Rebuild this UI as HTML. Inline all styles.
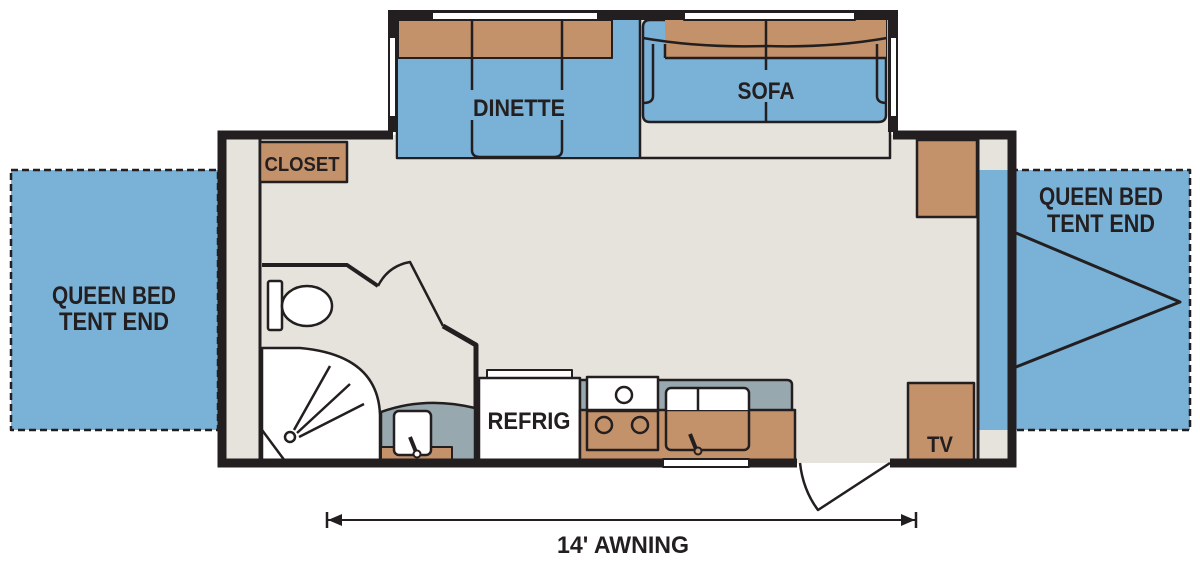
<!DOCTYPE html>
<html><head><meta charset="utf-8"><style>
html,body{margin:0;padding:0;background:#fff;width:1200px;height:563px;overflow:hidden}
svg{display:block}
text{font-family:"Liberation Sans Narrow","Liberation Sans",sans-serif;font-weight:bold;fill:#231f20}
</style></head><body>
<svg width="1200" height="563" viewBox="0 0 1200 563" xmlns="http://www.w3.org/2000/svg">
<g stroke="#231f20" stroke-linejoin="round">
<!-- tent ends -->
<rect x="11" y="170" width="207" height="260" fill="#7ab1d6" stroke-width="2.5" stroke-dasharray="7,4"/>
<rect x="978" y="170" width="212" height="260" fill="#7ab1d6" stroke-width="2.5" stroke-dasharray="7,4"/>
<!-- main floor -->
<rect x="221" y="135" width="791" height="328" fill="#e6e3dc" stroke="none"/>
<rect x="979" y="170" width="29" height="260" fill="#7ab1d6" stroke="none"/>
<line x1="260" y1="138" x2="260" y2="462" stroke-width="3"/>
<line x1="978" y1="138" x2="978" y2="462" stroke-width="3"/>
<!-- triangle -->
<polyline points="1016,233 1180,302 1016,367" fill="none" stroke-width="3"/>
<!-- slideout -->
<rect x="397" y="18" width="493" height="140" fill="#e6e3dc" stroke-width="2.5"/>
<rect x="398" y="20" width="242" height="137" fill="#7ab1d6" stroke="none"/>
<rect x="398" y="20" width="214" height="38" fill="#c4926a" stroke-width="2"/>
<line x1="640" y1="20" x2="640" y2="157" stroke-width="2.5"/>
<line x1="472" y1="20" x2="472" y2="90" stroke-width="2.5"/>
<line x1="562" y1="20" x2="562" y2="90" stroke-width="2.5"/>
<path d="M472,120 V150 Q472,157 480,157 H554 Q562,157 562,150 V120" fill="none" stroke-width="2.5"/>
<!-- sofa -->
<path d="M650,20 H886 V115 Q886,122 878,122 H650 Q643,122 643,115 V27 Q643,20 650,20Z" fill="#7ab1d6" stroke-width="2.5"/>
<path d="M665,20 H886 V58 H665Z" fill="#c4926a" stroke="none"/>
<path d="M643,38 Q700,48 766,46 Q830,48 887,38" fill="none" stroke-width="2.5"/>
<line x1="665" y1="44" x2="665" y2="58" stroke-width="2.5"/>
<line x1="665" y1="58" x2="886" y2="58" stroke-width="2.5"/>
<line x1="766" y1="20" x2="766" y2="70" stroke-width="2.5"/>
<line x1="766" y1="102" x2="766" y2="122" stroke-width="2.5"/>
<path d="M653,44 V96 Q653,103 643,103" fill="none" stroke-width="2.5"/>
<path d="M877,44 V96 Q877,103 887,103" fill="none" stroke-width="2.5"/>
<!-- slide walls -->
<path d="M393,132 V15 H893 V132" fill="none" stroke-width="10" stroke-linejoin="miter"/>
<rect x="432" y="12" width="166" height="8" fill="#fff" stroke-width="2"/>
<rect x="684" y="12" width="171" height="8" fill="#fff" stroke-width="2"/>
<rect x="389" y="37" width="7" height="80" fill="#fff" stroke-width="2"/>
<rect x="890" y="37" width="7" height="80" fill="#fff" stroke-width="2"/>
<!-- closet & cabinets -->
<rect x="260" y="142" width="87" height="40" fill="#c4926a" stroke-width="2.5"/>
<rect x="917" y="140" width="60" height="77" fill="#c4926a" stroke-width="2.5"/>
<rect x="908" y="383" width="66" height="78" fill="#c4926a" stroke-width="2.5"/>
<!-- bathroom -->
<path d="M262,265 H347 L378,286" fill="none" stroke-width="4"/>
<path d="M378,286 Q388,266 410,262 L443,326" fill="none" stroke-width="2.5"/>
<path d="M443,326 L476,345 V462" fill="none" stroke-width="5"/>
<rect x="268" y="281" width="14" height="49" rx="2" fill="#fff" stroke-width="2.5"/>
<ellipse cx="307" cy="306" rx="25" ry="20" fill="#fff" stroke-width="2.5"/>
<path d="M262,348 H300 Q378,355 380,415 V461 H262Z" fill="#fff" stroke-width="2.5"/>
<line x1="262" y1="430" x2="285" y2="461" stroke-width="2.5"/>
<circle cx="290" cy="437" r="5" fill="#fff" stroke-width="2.5"/>
<line x1="294" y1="430" x2="330" y2="366" stroke-width="2.5"/>
<line x1="297" y1="433" x2="350" y2="384" stroke-width="2.5"/>
<line x1="299" y1="437" x2="364" y2="404" stroke-width="2.5"/>
<path d="M381,412 Q425,396 475,408 V461 H381Z" fill="#97a8ae" stroke-width="2.5"/>
<rect x="381" y="447" width="71" height="14" fill="#c4926a" stroke-width="2"/>
<rect x="394" y="411" width="37" height="44" rx="5" fill="#fff" stroke-width="2.5"/>
<line x1="410" y1="437" x2="416" y2="452" stroke-width="4"/>
<circle cx="417" cy="454" r="3.5" fill="#fff" stroke-width="2"/>
<!-- refrig -->
<rect x="487" y="370" width="85" height="8" fill="#fff" stroke-width="2"/>
<rect x="479" y="378" width="101" height="84" fill="#fff" stroke-width="2.5"/>
<!-- kitchen -->
<path d="M580,380 H787 Q792,380 792,385 V461 H580Z" fill="#97a8ae" stroke-width="2.5"/>
<rect x="580" y="410" width="215" height="51" fill="#c4926a" stroke-width="2.5"/>
<rect x="587" y="377" width="71" height="34" fill="#fff" stroke-width="2.5"/>
<rect x="587" y="410" width="71" height="40" fill="none" stroke-width="2.5"/>
<circle cx="624" cy="395" r="8" fill="#fff" stroke-width="2.5"/>
<circle cx="604" cy="425" r="8" fill="none" stroke-width="2.5"/>
<circle cx="640" cy="425" r="8" fill="none" stroke-width="2.5"/>
<path d="M666,410 V392 Q666,388 671,388 H744 Q749,388 749,392 V410Z" fill="#fff" stroke="none"/>
<rect x="666" y="388" width="83" height="62" rx="5" fill="none" stroke-width="2.5"/>
<line x1="698" y1="388" x2="698" y2="410" stroke-width="2.5"/>
<line x1="690" y1="434" x2="696" y2="449" stroke-width="4"/>
<circle cx="698" cy="451" r="3.5" fill="#c4926a" stroke-width="2"/>
<!-- main walls -->
<path d="M393,135 H222 V463 H797 M890,463 H1012 V135 H893" fill="none" stroke-width="9" stroke-linejoin="miter"/>
<rect x="663" y="459" width="86" height="8" fill="#fff" stroke-width="2"/>
<!-- door -->
<path d="M890,463 L818,510 Q803,490 800,463" fill="none" stroke-width="2.5"/>
<!-- awning -->
<line x1="328" y1="520" x2="915" y2="520" stroke-width="2"/>
<line x1="327" y1="512" x2="327" y2="528" stroke-width="2.5"/>
<line x1="916" y1="512" x2="916" y2="528" stroke-width="2.5"/>
<polygon points="328,520 342,514 342,526" fill="#231f20" stroke="none"/>
<polygon points="915,520 901,514 901,526" fill="#231f20" stroke="none"/>
</g>
<text x="114" y="304" font-size="25" text-anchor="middle" textLength="124" lengthAdjust="spacingAndGlyphs">QUEEN BED</text>
<text x="114" y="330" font-size="25" text-anchor="middle" textLength="110" lengthAdjust="spacingAndGlyphs">TENT END</text>
<text x="1101" y="205" font-size="25" text-anchor="middle" textLength="124" lengthAdjust="spacingAndGlyphs">QUEEN BED</text>
<text x="1101" y="232" font-size="25" text-anchor="middle" textLength="108" lengthAdjust="spacingAndGlyphs">TENT END</text>
<text x="519" y="116" font-size="24" text-anchor="middle" textLength="92" lengthAdjust="spacingAndGlyphs">DINETTE</text>
<text x="766" y="99" font-size="24" text-anchor="middle" textLength="57" lengthAdjust="spacingAndGlyphs">SOFA</text>
<text x="302" y="171" font-size="20" text-anchor="middle" textLength="75" lengthAdjust="spacingAndGlyphs">CLOSET</text>
<text x="529" y="429" font-size="24" text-anchor="middle" textLength="83" lengthAdjust="spacingAndGlyphs">REFRIG</text>
<text x="940" y="452" font-size="22" text-anchor="middle" textLength="26" lengthAdjust="spacingAndGlyphs">TV</text>
<text x="623" y="553" font-size="24" text-anchor="middle" textLength="132" lengthAdjust="spacingAndGlyphs">14' AWNING</text>
</svg>
</body></html>
